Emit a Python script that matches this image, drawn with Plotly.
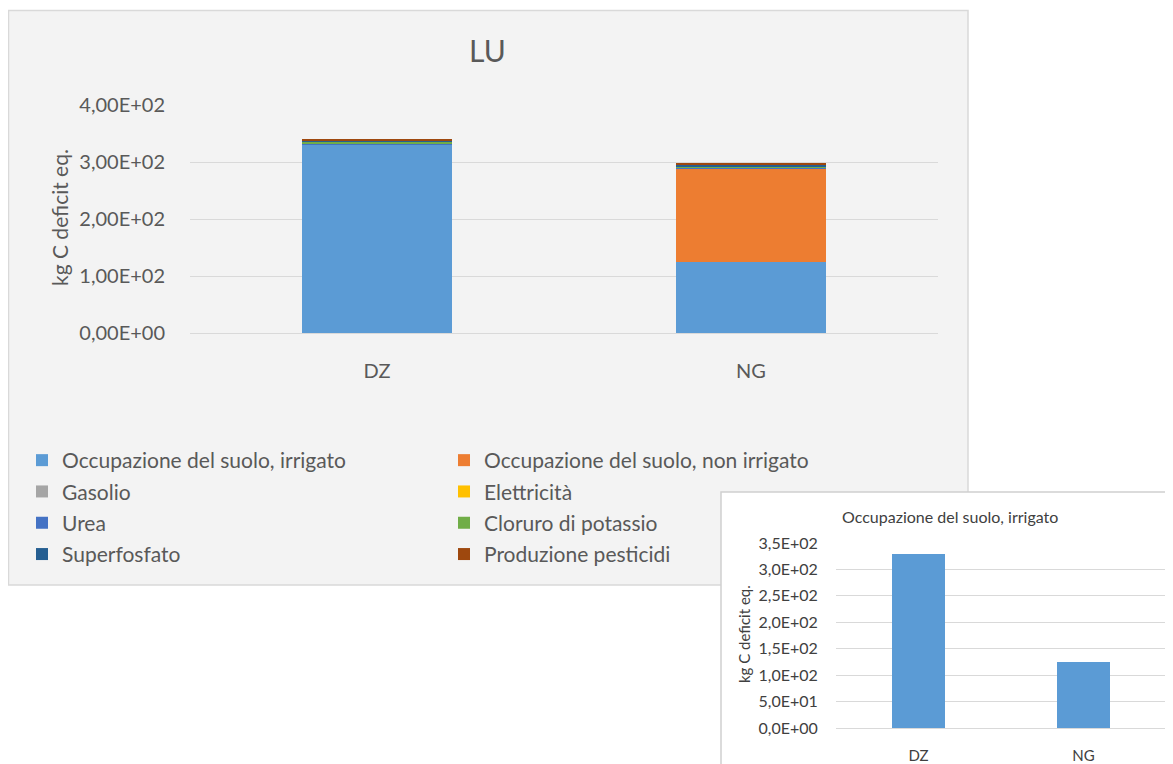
import plotly.graph_objects as go

W, H = 1173, 764
OFF = 8  # page body margin shifts the figure by this much

# --- data ---
countries = ['DZ', 'NG']
series_names = [
    'Occupazione del suolo, irrigato',
    'Occupazione del suolo, non irrigato',
    'Gasolio',
    'Elettricità',
    'Urea',
    'Cloruro di potassio',
    'Superfosfato',
    'Produzione pesticidi',
]
irrigato = [330, 125]
non_irrigato = [0, 163]
gasolio = [1.0, 1.0]
elettricita = [0.2, 0.2]
urea = [1.5, 1.5]
cloruro = [2.5, 2.0]
superfosfato = [2.5, 3.0]
pesticidi = [3.0, 3.0]
series_values = [irrigato, non_irrigato, gasolio, elettricita, urea, cloruro, superfosfato, pesticidi]
colors = ['#5B9BD5', '#ED7D31', '#A5A5A5', '#FFC000', '#4472C4', '#70AD47', '#255E91', '#9E480E']

main_ticks = [0, 100, 200, 300, 400]
main_ticktext = ['0,00E+00', '1,00E+02', '2,00E+02', '3,00E+02', '4,00E+02']
inset_ticks = [0, 50, 100, 150, 200, 250, 300, 350]
inset_ticktext = ['0,0E+00', '5,0E+01', '1,0E+02', '1,5E+02', '2,0E+02', '2,5E+02', '3,0E+02', '3,5E+02']


def px(x):
    return (x - OFF) / W


def py(y):
    return 1 - (y - OFF) / H


FONT = 'Lato, Open Sans, sans-serif'

fig = go.Figure()

# legend in two columns: even indices left, odd indices right
for i, (name, vals, col) in enumerate(zip(series_names, series_values, colors)):
    fig.add_trace(go.Bar(
        x=countries, y=vals, name=name, marker_color=col,
        marker_line_width=0, xaxis='x', yaxis='y',
        legend='legend' if i % 2 == 0 else 'legend2', legendgroup=name,
    ))

# inset: irrigato only
fig.add_trace(go.Bar(
    x=countries, y=irrigato, marker_color='#5B9BD5', marker_line_width=0,
    xaxis='x2', yaxis='y2', showlegend=False, width=0.32,
))

legend_common = dict(
    orientation='v', traceorder='grouped', tracegroupgap=1,
    yanchor='top', xanchor='left',
    font=dict(size=21, color='#595959'),
    bgcolor='rgba(0,0,0,0)', itemclick=False, itemdoubleclick=False,
)

fig.update_layout(
    width=W, height=H,
    template='none',
    margin=dict(l=0, r=0, t=0, b=0, pad=0, autoexpand=False),
    paper_bgcolor='white',
    plot_bgcolor='rgba(0,0,0,0)',
    barmode='stack',
    bargap=0.6,
    font=dict(family=FONT, color='#595959'),
    xaxis=dict(
        domain=[px(190), px(938)], anchor='y', automargin=False,
        showgrid=False, showline=True, linecolor='#d9d9d9', linewidth=1,
        ticks='outside', ticklen=20, tickcolor='rgba(0,0,0,0)',
        tickfont=dict(size=20, color='#595959'),
    ),
    yaxis=dict(
        domain=[py(333), py(105)], anchor='x', range=[0, 400], automargin=False,
        tickvals=main_ticks, ticktext=main_ticktext,
        gridcolor='#d9d9d9', gridwidth=1, zeroline=False, showline=False,
        ticks='outside', ticklen=20, tickcolor='rgba(0,0,0,0)',
        tickfont=dict(size=20, color='#595959'),
    ),
    xaxis2=dict(
        domain=[px(836), px(1166)], anchor='y2', automargin=False,
        showgrid=False, showline=True, linecolor='#d9d9d9', linewidth=1,
        ticks='outside', ticklen=14, tickcolor='rgba(0,0,0,0)',
        tickfont=dict(size=15, color='#404040'),
    ),
    yaxis2=dict(
        domain=[py(728), py(543)], anchor='x2', range=[0, 350], automargin=False,
        tickvals=inset_ticks, ticktext=inset_ticktext,
        gridcolor='#d9d9d9', gridwidth=1, zeroline=False, showline=False,
        ticks='outside', ticklen=14, tickcolor='rgba(0,0,0,0)',
        tickfont=dict(size=16, color='#404040'),
    ),
    legend=dict(x=px(22), y=py(440), **legend_common),
    legend2=dict(x=px(444), y=py(440), **legend_common),
    shapes=[
        dict(type='rect', xref='paper', yref='paper', layer='below',
             x0=px(8.5), x1=px(968), y0=py(585), y1=py(10.5),
             fillcolor='#f3f3f3', line=dict(color='#d9d9d9', width=1.5)),
        dict(type='rect', xref='paper', yref='paper', layer='below',
             x0=px(721), x1=px(1190), y0=py(780), y1=py(492),
             fillcolor='white', line=dict(color='#d0d0d0', width=1.5)),
    ],
    annotations=[
        dict(text='LU', xref='paper', yref='paper', x=px(487), y=py(50),
             xanchor='center', yanchor='middle',
             showarrow=False, font=dict(size=30, color='#595959')),
        dict(text='kg C deficit eq.', xref='paper', yref='paper', x=px(60), y=py(218),
             xanchor='center', yanchor='middle',
             showarrow=False, textangle=-90, font=dict(size=21, color='#595959')),
        dict(text='Occupazione del suolo, irrigato', xref='paper', yref='paper',
             x=px(950), y=py(516), xanchor='center', yanchor='middle',
             showarrow=False, font=dict(size=16, color='#404040')),
        dict(text='kg C deficit eq.', xref='paper', yref='paper', x=px(744), y=py(634),
             xanchor='center', yanchor='middle',
             showarrow=False, textangle=-90, font=dict(size=15, color='#404040')),
    ],
)

fig.write_html('out.html')
